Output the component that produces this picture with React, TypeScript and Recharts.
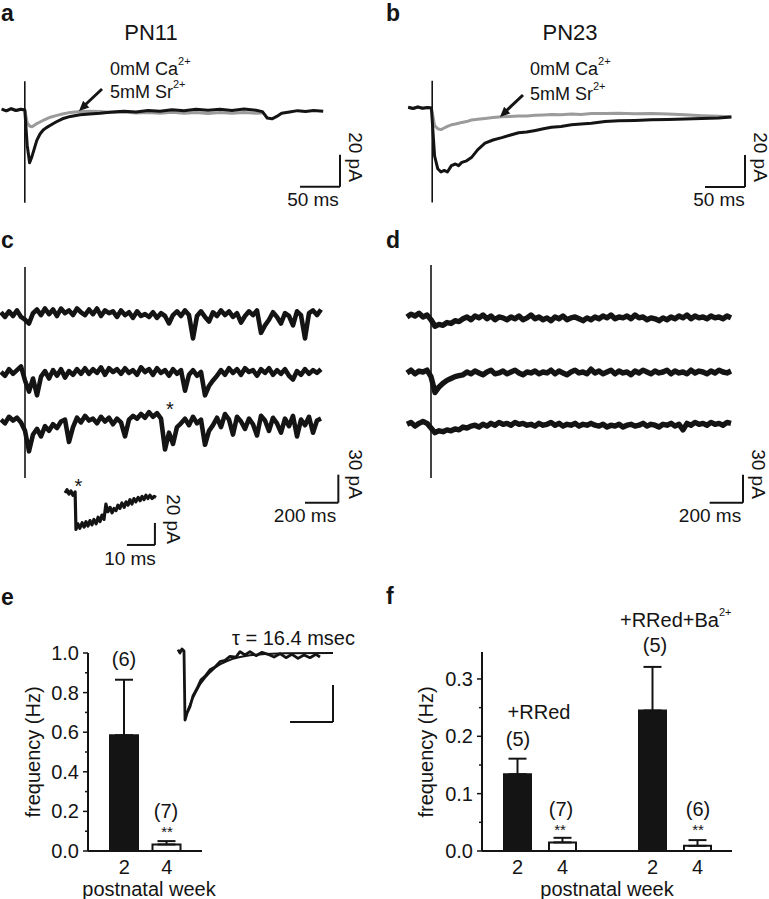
import React from 'react';
import {
  LineChart,
  Line,
  XAxis,
  YAxis,
  ReferenceLine,
  BarChart,
  Bar,
  ErrorBar,
  Cell,
} from 'recharts';

const FONT = '"Liberation Sans", Arial, Helvetica, sans-serif';
const INK = '#141414';
const GREY = '#9b9b9b';

// a: PN11 evoked current, time (ms) / current (pA)
const A_TIME = [2, 8, 14, 20, 26, 31, 34, 37, 40, 43, 46, 50, 54, 58, 63, 70, 78, 88, 100, 112, 125, 140, 155, 170, 185, 200, 215, 230, 245, 260, 275, 290, 305, 320, 328, 334, 340, 346, 352, 362, 372, 382, 392, 404];
const A_CONTROL = [0.5, -0.5, 0.8, -0.3, 0.5, 0, -22, -33, -29, -24, -19, -15, -12.5, -11, -9.5, -7.5, -5.5, -4, -3, -2.5, -2, -1.2, -0.8, -1.2, -0.3, -0.8, 0.2, -0.5, 0.4, -0.2, 0.5, -0.3, 0.6, -0.2, -1, -5, -5.5, -4, -2, -1.2, -0.4, -1, -0.3, -0.8];
const A_SR = [0.5, -0.5, 0.8, -0.3, 0.5, 0, -8, -10, -10.5, -9.5, -8.5, -7.5, -6.5, -5.5, -4.5, -3.5, -2.5, -1.5, -1, -0.8, -1, -1.5, -1.2, -1.8, -1.5, -2, -1.4, -2, -1.6, -2.2, -1.6, -2, -1.5, -2, -1.8, null, null, null, null, null, null, null, null, null];

// b: PN23
const B_TIME = [29, 35, 41, 47, 53, 58, 62, 66, 70, 74, 78, 83, 88, 92, 96, 102, 108, 116, 125, 135, 146, 156, 167, 177, 188, 198, 208, 220, 233, 245, 258, 275, 292, 312, 333, 354, 375, 396, 417, 433];
const B_CONTROL = [0.5, -0.3, 0.6, -0.2, 0.3, 0, -30, -38, -40, -39, -40, -36, -35, -36, -34, -33, -31, -26, -22, -20, -18.5, -17, -15.5, -15, -14, -13, -12, -11.5, -10.5, -10, -9.5, -8.5, -8, -7.8, -7.4, -7.2, -6.9, -6.5, -6.2, -5.6];
const B_SR = [0.5, -0.3, 0.6, -0.2, 0.3, 0, -11, -13, -13.5, -12.5, -11.5, -10.5, -10, -9.5, -9, -8.5, -7.5, -7, -6.5, -6, -5.5, -5.3, -5, -5, -4.5, -4.3, -4, -4.2, -3.8, -4, -3.5, -3.4, -3.3, -3.6, -3.4, -3.8, -4.2, -4.8, -5.2, -5.4];

// c, d: three consecutive sweeps (pA), one sample every 24 ms
const SWEEP_DT = 24;
const C_START = 6;
const C_SWEEP_1 = [2, -3, 3, -2, 4, -3, -6, -10, 1, 5, -1, 6, 0, 5, -2, 6, 1, 4, -1, 6, 2, -1, 5, 0, 6, -2, 4, 1, 3, -3, 4, -1, 2, -4, 3, -2, 0, -3, 2, -4, 1, -2, -10, -1, 3, -2, 4, -1, -26, -2, 3, -3, -8, 2, -2, 4, -1, 3, -3, 1, -9, -2, 3, -1, 4, -20, -12, -6, 2, -3, -10, 1, -2, -12, 3, -1, -26, 1, 4, -1, 5];
const C_SWEEP_2 = [1, -3, 4, -1, 3, 7, -8, -20, -6, -24, -4, 2, -6, 3, -3, 4, -5, 2, -2, 4, -1, 5, -1, 4, 0, 6, -2, 5, 1, 4, -1, 5, 0, 3, -2, 6, 1, 4, -2, 5, 0, 3, -3, 4, -1, 3, -19, -2, 3, -3, 1, -24, -14, -8, -3, 3, -2, 5, 0, 4, -2, 5, 1, 3, -3, 4, 0, 5, -2, 3, -1, 4, -3, -7, 2, -2, 4, -1, 3, 0, 4];
const C_SWEEP_3 = [2, -2, 5, 1, 4, -1, -10, -32, -14, -8, -16, -5, -10, -3, -7, 0, 2, -22, -6, 4, -1, 6, 1, 3, -2, 5, 0, 4, -3, 3, -1, -16, 2, 6, 3, 8, 4, 10, 5, 9, 3, -30, -12, -24, -6, -2, 3, -4, 5, -2, 2, -25, -10, -4, 4, -6, 8, 2, -14, 5, 0, -8, 3, -3, -15, 6, 1, -10, 4, -2, -12, 3, -5, 6, -16, 2, -4, 5, -12, 1, 3];
const D_START = 42;
const D_SWEEP_1 = [1, 4, 2, 5, 1, 3, -2, -9, -7, -8, -5, -6, -3, -4, -1, 1, -2, 2, 0, 3, -1, 2, -2, 1, 0, -2, 1, -1, 2, -2, 0, 3, -1, 1, -2, 0, -3, 1, -1, 2, -2, 0, 1, -1, -3, 0, -2, 1, -1, 2, 0, 3, -1, 1, 0, 2, -1, 3, 0, 1, -2, 0, -1, -3, 0, -2, 1, -1, 2, 0, 3, -1, 2, 0, 1, -1, 2, 0, 1, -1, 2, 0];
const D_SWEEP_2 = [0, 3, -1, 2, 1, 3, -4, -21, -15, -11, -8, -6, -4, -3, -2, 1, -1, 2, 0, -2, 1, 3, -1, 0, 2, -1, 1, 3, 0, -2, 1, 0, 2, -1, 1, 0, 3, -1, 2, 0, -2, 1, 3, 0, 1, -1, 4, 0, 2, -1, 1, 3, -1, 2, 0, 1, -2, 2, 0, 3, 1, -1, 2, 0, 1, 3, -1, 2, 0, 1, -1, 3, 0, 2, 1, -1, 2, 0, 3, 1, 0, 2];
const D_SWEEP_3 = [1, 3, -1, 2, 4, 2, -3, -8, -6, -7, -5, -6, -4, -5, -2, -3, -1, 0, -2, 1, -1, 2, 0, 3, 1, 2, 0, 3, 1, 2, 0, 1, -1, 2, 0, 1, 3, 0, 2, -1, 1, 0, 2, -1, 1, 0, 2, 0, -1, 1, -2, 0, -1, 1, -2, 0, 1, -1, 0, 2, -1, 1, 0, -2, 1, 0, 2, -1, 1, -5, 2, 0, 3, 1, 2, 0, 3, 1, 2, 0, 3, 2];

// c inset: the asterisked event on an expanded time base
const C_EVENT_TIME = [1.8, 2.5, 3.2, 3.9, 4.6, 5.4, 5.7, 6.4, 7.1, 7.9, 8.6, 9.3, 10.0, 10.7, 11.4, 12.1, 12.9, 13.6, 14.3, 15.0, 15.7, 16.4, 17.1, 17.9, 18.6, 19.3, 20.0, 20.7, 21.4, 22.1, 22.9, 23.6, 24.3, 25.0, 25.7, 26.4, 27.1, 27.9, 28.6, 29.3, 30.0, 30.7, 31.4, 32.1, 32.9, 33.6, 34.3];
const C_EVENT = [0, 3, -1, 2, -2, 1, -33, -28, -32, -27, -31, -26, -30, -25, -29, -24, -28, -22, -26, -20, -24, -10, -17, -13, -18, -14, -16, -11, -14, -9, -13, -8, -11, -6, -10, -5, -8, -4, -7, -3, -6, -2, -5, -2, -5, -3, -4];

// e inset: normalised decay and single exponential fit
const E_DECAY_TIME = [8, 10, 12, 14, 15, 17, 20, 23, 27, 31, 35, 40, 45, 50, 55, 60, 66, 70, 75, 80, 86, 92, 98, 104, 110, 116, 122, 128, 134, 140, 146, 150];
const E_DECAY = [0.05, 0.0, 0.06, 0.03, -1.0, -0.9, -0.8, -0.64, -0.53, -0.4, -0.35, -0.25, -0.21, -0.13, -0.11, -0.05, -0.06, 0.02, -0.03, 0.02, -0.04, 0.01, -0.02, -0.06, -0.01, -0.07, -0.02, -0.08, -0.03, -0.07, -0.02, -0.06];
const E_FIT_TIME = [15, 18, 22, 26, 30, 35, 40, 45, 50, 56, 62, 70, 80, 95, 115, 163];
const E_FIT = [-1.0, -0.84, -0.7, -0.58, -0.47, -0.37, -0.29, -0.22, -0.17, -0.13, -0.09, -0.06, -0.035, -0.015, -0.004, 0];

// e, f: event frequency (Hz), mean and SEM
const E_WEEKS = ['2', '4'];
const E_FREQ = [0.585, 0.033];
const E_SEM = [0.28, 0.017];
const E_TICKS = [0, 0.1, 0.2, 0.3, 0.4, 0.5, 0.6, 0.7, 0.8, 0.9, 1.0];
const E_MAJOR = [0, 0.2, 0.4, 0.6, 0.8, 1.0];

const F_WEEKS = ['2', '4', '2', '4'];
const F_FREQ = [0.134, 0.015, 0.245, 0.009];
const F_SEM = [0.027, 0.008, 0.076, 0.01];
const F_TICKS = [0, 0.05, 0.1, 0.15, 0.2, 0.25, 0.3];
const F_MAJOR = [0, 0.1, 0.2, 0.3];

type Frame = {
  left: number; top: number; width: number; height: number;
  msPerPx: number; unitPerPx: number; tStart: number; vTop: number;
};

const FRAME_A: Frame = { left: 0, top: 62, width: 360, height: 160, msPerPx: 1.25, unitPerPx: 0.625, tStart: 0, vTop: 30 };
const FRAME_B: Frame = { left: 385, top: 60, width: 370, height: 160, msPerPx: 1.25, unitPerPx: 0.625, tStart: 0, vTop: 30 };
const FRAME_C: Frame = { left: 0, top: 260, width: 360, height: 275, msPerPx: 6, unitPerPx: 30 / 28, tStart: 0, vTop: 60 };
const FRAME_D: Frame = { ...FRAME_C, left: 400 };
const FRAME_C_INSET: Frame = { left: 60, top: 475, width: 110, height: 80, msPerPx: 10 / 28, unitPerPx: 20 / 22, tStart: 0, vTop: 16.4 };
const FRAME_E_INSET: Frame = { left: 170, top: 640, width: 170, height: 90, msPerPx: 1, unitPerPx: 1 / 67, tStart: 0, vTop: 0.194 };

// vertical display offsets of the stacked sweeps (pA)
const C_OFFSETS = [2, -61, -113];
const D_OFFSETS = [-2, -61, -117];

const aRows = A_TIME.map((t, i) => ({ t, control: A_CONTROL[i], sr: A_SR[i] }));
const bRows = B_TIME.map((t, i) => ({ t, control: B_CONTROL[i], sr: B_SR[i] }));
const cRows = C_SWEEP_1.map((v, i) => ({ t: C_START + i * SWEEP_DT, s1: v, s2: C_SWEEP_2[i], s3: C_SWEEP_3[i] }));
const dRows = D_SWEEP_1.map((v, i) => ({ t: D_START + i * SWEEP_DT, s1: v, s2: D_SWEEP_2[i], s3: D_SWEEP_3[i] }));
const cEventRows = C_EVENT_TIME.map((t, i) => ({ t, v: C_EVENT[i] }));
const eDecayRows = E_DECAY_TIME.map((t, i) => ({ t, v: E_DECAY[i] }));
const eFitRows = E_FIT_TIME.map((t, i) => ({ t, v: E_FIT[i] }));

const eRows = E_WEEKS.map((week, i) => ({ slot: `e${i}`, week, freq: E_FREQ[i], err: [0, E_SEM[i]] }));
const fRows: any[] = F_WEEKS.map((week, i) => ({ slot: `f${i}`, week, freq: F_FREQ[i], err: [0, F_SEM[i]] }));
fRows.splice(2, 0, { slot: 'gap', week: '', freq: null, err: null });

function TracePanel({ frame, data, children }: { frame: Frame; data?: any[]; children: React.ReactNode }) {
  const xd = [frame.tStart, frame.tStart + frame.width * frame.msPerPx];
  const yd = [frame.vTop - frame.height * frame.unitPerPx, frame.vTop];
  return (
    <div style={{ position: 'absolute', left: frame.left, top: frame.top }}>
      <LineChart width={frame.width} height={frame.height} data={data} margin={{ top: 0, right: 0, bottom: 0, left: 0 }}>
        <XAxis type="number" dataKey="t" domain={xd} allowDataOverflow hide />
        <YAxis type="number" domain={yd} allowDataOverflow hide />
        {children}
      </LineChart>
    </div>
  );
}

function scaleBar(key: string, x0: number, x1: number, y0: number, y1: number) {
  return [
    <ReferenceLine key={key + 'h'} segment={[{ x: x0, y: y0 }, { x: x1, y: y0 }]} stroke={INK} strokeWidth={2} />,
    <ReferenceLine key={key + 'v'} segment={[{ x: x1, y: y0 }, { x: x1, y: y1 }]} stroke={INK} strokeWidth={2} />,
  ];
}

function artifact(key: string, t: number, top: number, bottom: number) {
  return <ReferenceLine key={key} segment={[{ x: t, y: top }, { x: t, y: bottom }]} stroke={INK} strokeWidth={1.6} />;
}

function FreqTick(props: any) {
  const { x, y, payload, majors } = props;
  const isMajor = majors.some((m: number) => Math.abs(m - payload.value) < 1e-9);
  return (
    <g>
      <line x1={x - (isMajor ? 5 : 3)} x2={x} y1={y} y2={y} stroke={INK} strokeWidth={1.5} />
      {isMajor && (
        <text x={x - 9} y={y} textAnchor="end" dominantBaseline="central" fontSize={20} fill={INK} fontFamily={FONT}>
          {payload.value.toFixed(1)}
        </text>
      )}
    </g>
  );
}

const Y_AXIS_W = 68;

function FreqBars({ left, top, rows, plotWidth, plotHeight, yMax, ticks, majors, pad, barSize }: any) {
  return (
    <div style={{ position: 'absolute', left, top }}>
      <BarChart
        width={Y_AXIS_W + plotWidth}
        height={13 + plotHeight + 30}
        data={rows}
        margin={{ top: 13, right: 0, bottom: 0, left: 0 }}
      >
        <XAxis
          dataKey="slot"
          type="category"
          interval={0}
          padding={pad}
          height={30}
          tickLine={false}
          tickSize={0}
          tickMargin={9}
          axisLine={{ stroke: INK, strokeWidth: 2 }}
          tick={{ fill: INK, fontSize: 20, fontFamily: FONT }}
          tickFormatter={(s: string) => rows.find((r: any) => r.slot === s)?.week ?? ''}
        />
        <YAxis
          type="number"
          domain={[0, yMax]}
          ticks={ticks}
          interval={0}
          width={Y_AXIS_W}
          tickLine={false}
          tickSize={0}
          tickMargin={0}
          allowDataOverflow
          axisLine={{ stroke: INK, strokeWidth: 2 }}
          tick={(p: any) => <FreqTick {...p} majors={majors} />}
        />
        <Bar dataKey="freq" barSize={barSize} isAnimationActive={false}>
          {rows.map((r: any) => (
            <Cell key={r.slot} fill={r.week === '2' ? INK : '#ffffff'} stroke={INK} strokeWidth={2} />
          ))}
          <ErrorBar dataKey="err" width={9} stroke={INK} strokeWidth={2} direction="y" />
        </Bar>
      </BarChart>
    </div>
  );
}

function Txt({ x, y, size = 19, anchor = 'middle', weight = 400, rotate = 0, base = 'central', children }: any) {
  return (
    <text
      x={x}
      y={y}
      fontSize={size}
      textAnchor={anchor}
      dominantBaseline={base}
      fontWeight={weight}
      fontFamily={FONT}
      fill={INK}
      transform={rotate ? `rotate(${rotate} ${x} ${y})` : undefined}
    >
      {children}
    </text>
  );
}

const Sup = ({ children }: any) => (
  <tspan fontSize={11} dy={-8}>{children}</tspan>
);

export default function App() {
  const traceLine = { type: 'linear' as const, dot: false, isAnimationActive: false, strokeLinejoin: 'round' as const };
  return (
    <div style={{ position: 'absolute', left: 0, top: 0, width: 769, height: 899, background: '#fff', overflow: 'hidden' }}>
      {/* a */}
      <TracePanel frame={FRAME_A} data={aRows}>
        <Line {...traceLine} dataKey="sr" stroke={GREY} strokeWidth={3} />
        <Line {...traceLine} dataKey="control" stroke={INK} strokeWidth={3} />
        {artifact('art', 31, 18, -58)}
        {scaleBar('sb', 375, 425, -48, -28)}
      </TracePanel>

      {/* b */}
      <TracePanel frame={FRAME_B} data={bRows}>
        <Line {...traceLine} dataKey="sr" stroke={GREY} strokeWidth={3} />
        <Line {...traceLine} dataKey="control" stroke={INK} strokeWidth={3} />
        {artifact('art', 59, 17, -59)}
        {scaleBar('sb', 400, 450, -49.4, -29.4)}
      </TracePanel>

      {/* c */}
      <TracePanel frame={FRAME_C} data={cRows}>
        <Line {...traceLine} dataKey={(r: any) => r.s1 + C_OFFSETS[0]} stroke={INK} strokeWidth={4.6} />
        <Line {...traceLine} dataKey={(r: any) => r.s2 + C_OFFSETS[1]} stroke={INK} strokeWidth={4.6} />
        <Line {...traceLine} dataKey={(r: any) => r.s3 + C_OFFSETS[2]} stroke={INK} strokeWidth={4.6} />
        {artifact('art', 150, 52.5, -173.6)}
        {scaleBar('sb', 1830, 2030, -200, -170)}
      </TracePanel>

      <TracePanel frame={FRAME_C_INSET} data={cEventRows}>
        <Line {...traceLine} dataKey="v" stroke={INK} strokeWidth={3.2} />
        {scaleBar('sb', 23.9, 33.9, -47.2, -27.2)}
      </TracePanel>

      {/* d */}
      <TracePanel frame={FRAME_D} data={dRows}>
        <Line {...traceLine} dataKey={(r: any) => r.s1 + D_OFFSETS[0]} stroke={INK} strokeWidth={5.4} />
        <Line {...traceLine} dataKey={(r: any) => r.s2 + D_OFFSETS[1]} stroke={INK} strokeWidth={5.4} />
        <Line {...traceLine} dataKey={(r: any) => r.s3 + D_OFFSETS[2]} stroke={INK} strokeWidth={5.4} />
        {artifact('art', 186, 54.6, -173.6)}
        {scaleBar('sb', 1858, 2058, -200, -170)}
      </TracePanel>

      {/* e */}
      <FreqBars
        left={20}
        top={640}
        rows={eRows}
        plotWidth={114}
        plotHeight={198}
        yMax={1.0}
        ticks={E_TICKS}
        majors={E_MAJOR}
        pad={{ left: 15, right: 14 }}
        barSize={28}
      />
      <TracePanel frame={FRAME_E_INSET}>
        <Line {...traceLine} data={eDecayRows} dataKey="v" stroke={INK} strokeWidth={2.8} />
        <Line {...traceLine} data={eFitRows} dataKey="v" stroke={INK} strokeWidth={2} />
        {scaleBar('sb', 120, 163, -1.03, -0.478)}
      </TracePanel>

      {/* f */}
      <FreqBars
        left={414}
        top={639}
        rows={fRows}
        plotWidth={250}
        plotHeight={199}
        yMax={0.347}
        ticks={F_TICKS}
        majors={F_MAJOR}
        pad={{ left: 13, right: 12 }}
        barSize={27}
      />

      <svg width={769} height={899} style={{ position: 'absolute', left: 0, top: 0, pointerEvents: 'none' }}>
        <Txt x={1} y={21} size={23} weight={700} anchor="start" base="alphabetic">a</Txt>
        <Txt x={386} y={21} size={23} weight={700} anchor="start" base="alphabetic">b</Txt>
        <Txt x={1} y={248} size={23} weight={700} anchor="start" base="alphabetic">c</Txt>
        <Txt x={386} y={248} size={23} weight={700} anchor="start" base="alphabetic">d</Txt>
        <Txt x={1} y={605} size={23} weight={700} anchor="start" base="alphabetic">e</Txt>
        <Txt x={386} y={604} size={23} weight={700} anchor="start" base="alphabetic">f</Txt>

        <Txt x={151} y={32} size={22}>PN11</Txt>
        <Txt x={570} y={32} size={22}>PN23</Txt>
        <Txt x={110} y={69} size={18} anchor="start">0mM Ca<Sup>2+</Sup></Txt>
        <Txt x={110} y={92} size={18} anchor="start">5mM Sr<Sup>2+</Sup></Txt>
        <Txt x={530} y={69} size={18} anchor="start">0mM Ca<Sup>2+</Sup></Txt>
        <Txt x={530} y={94} size={18} anchor="start">5mM Sr<Sup>2+</Sup></Txt>
        <line x1={102} y1={89} x2={85} y2={105} stroke={INK} strokeWidth={3} />
        <polygon points="79,111 89.3,107.4 83.1,100.8" fill={INK} />
        <line x1={523} y1={95} x2={506} y2={111} stroke={INK} strokeWidth={3} />
        <polygon points="500,117 510.3,113.4 504.1,106.8" fill={INK} />

        <Txt x={313} y={199}>50 ms</Txt>
        <Txt x={355} y={157} rotate={90}>20 pA</Txt>
        <Txt x={719} y={199}>50 ms</Txt>
        <Txt x={760} y={157} rotate={90}>20 pA</Txt>

        <Txt x={170} y={409} size={20}>*</Txt>
        <Txt x={305} y={515}>200 ms</Txt>
        <Txt x={355} y={474} rotate={90}>30 pA</Txt>
        <Txt x={78.5} y={486} size={20}>*</Txt>
        <Txt x={130} y={558}>10 ms</Txt>
        <Txt x={173} y={519} rotate={90}>20 pA</Txt>
        <Txt x={710} y={515}>200 ms</Txt>
        <Txt x={758} y={474} rotate={90}>30 pA</Txt>

        <Txt x={33} y={752} size={20} rotate={-90}>frequency (Hz)</Txt>
        <Txt x={149} y={889} size={20}>postnatal week</Txt>
        <Txt x={124} y={659} size={20}>(6)</Txt>
        <Txt x={166} y={811} size={20}>(7)</Txt>
        <Txt x={167} y={831} size={15}>**</Txt>
        <Txt x={232} y={638} size={20} anchor="start">τ = 16.4 msec</Txt>

        <Txt x={426} y={752} size={20} rotate={-90}>frequency (Hz)</Txt>
        <Txt x={607} y={889} size={20}>postnatal week</Txt>
        <Txt x={539} y={712} size={20}>+RRed</Txt>
        <Txt x={518} y={739} size={20}>(5)</Txt>
        <Txt x={561} y={809} size={20}>(7)</Txt>
        <Txt x={560} y={829} size={15}>**</Txt>
        <Txt x={620} y={620} size={20} anchor="start">+RRed+Ba<Sup>2+</Sup></Txt>
        <Txt x={655} y={645} size={20}>(5)</Txt>
        <Txt x={698} y={809} size={20}>(6)</Txt>
        <Txt x={698} y={829} size={15}>**</Txt>
      </svg>
    </div>
  );
}
